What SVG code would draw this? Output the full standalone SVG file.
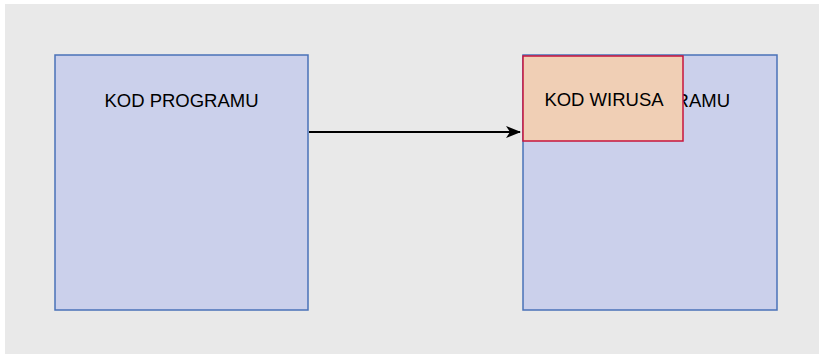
<svg xmlns="http://www.w3.org/2000/svg" width="819" height="354" viewBox="0 0 819 354">
  <defs>
    <style>
      .code { fill: #cbd0eb; stroke: #4a72b8; stroke-width: 1.5; }
      .virus { fill: #f0cfb5; stroke: #c8143c; stroke-width: 1.5; }
      .label { font-family: "Liberation Sans", Arial, sans-serif; font-size: 18.5px; fill: #000000; text-anchor: middle; }
      .edge { fill: none; stroke: #000000; stroke-width: 2; }
    </style>
    <marker id="arrow" viewBox="0 0 15 12" refX="14" refY="6" markerWidth="15" markerHeight="12" markerUnits="userSpaceOnUse" orient="auto">
      <path d="M0,0 L15,6 L0,12 L4,6 Z" fill="#000000"/>
    </marker>
  </defs>

  <!-- canvas background -->
  <rect x="5" y="4" width="814" height="350" fill="#e9e9e9"/>

  <g id="program-source">
    <rect class="code" x="55" y="55" width="253" height="255"/>
    <text class="label" x="181.5" y="106.5">KOD PROGRAMU</text>
  </g>

  <g id="program-infected">
    <rect class="code" x="523" y="55" width="254" height="255"/>
    <text class="label" x="653" y="106.5">KOD PROGRAMU</text>
  </g>

  <g id="virus-code">
    <rect class="virus" x="523" y="56" width="160" height="85"/>
    <text class="label" x="604" y="105.5">KOD WIRUSA</text>
  </g>

  <g id="connectors">
    <line class="edge" x1="309" y1="132" x2="520" y2="132" marker-end="url(#arrow)"/>
  </g>
</svg>
